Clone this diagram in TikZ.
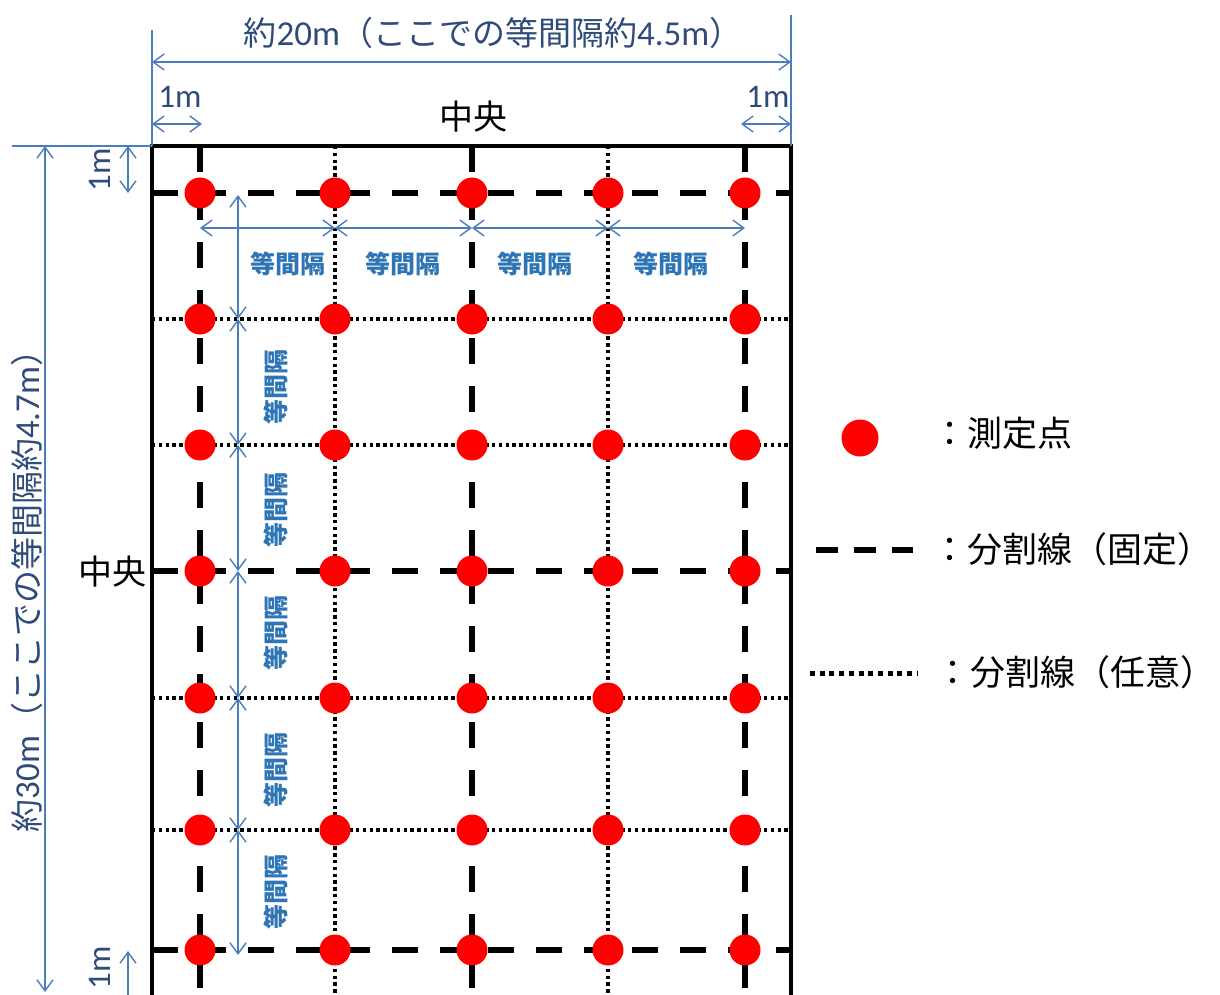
\documentclass[tikz,border=0pt]{standalone}
\usepackage{fontspec}
\setmainfont{Noto Sans CJK JP}
\newfontfamily\carl{Carlito}
\usetikzlibrary{arrows.meta}
\definecolor{dimline}{HTML}{4A7EBB}
\definecolor{dimtext}{HTML}{2F4B7A}
\definecolor{lblblue}{HTML}{2E75B6}
\definecolor{ptred}{HTML}{FF0000}
\begin{document}
\begin{tikzpicture}[x=1pt,y=-1pt,
  barb/.tip={Straight Barb[length=11pt,width=16pt,line width=1.4pt]},
  dimarrow/.style={draw=dimline, line width=1.5pt, barb-barb},
  dimhalf/.style={draw=dimline, line width=1.5pt, barb-},
  extline/.style={draw=dimline, line width=1.3pt},
  fixedline/.style={draw=black, line width=6pt, dash pattern=on 26pt off 22pt},
  freeline/.style={draw=black, line width=3.4pt, dash pattern=on 3.4pt off 3.4pt},
  border/.style={draw=black, line width=4pt},
  measpt/.style={circle, fill=ptred, minimum size=31pt, inner sep=0pt},
  dimlabel/.style={text=dimtext, inner sep=0pt, font=\fontsize{33}{33}\selectfont},
  onem/.style={text=dimtext, inner sep=0pt, font=\carl\fontsize{33}{33}\selectfont},
  eqlabel/.style={text=lblblue, inner sep=0pt, font=\bfseries\fontsize{25}{25}\selectfont},
  center/.style={text=black, inner sep=0pt, font=\fontsize{34}{34}\selectfont},
  legendtext/.style={text=black, anchor=west, inner sep=0pt, font=\fontsize{35}{35}\selectfont}
]
\useasboundingbox (0,0) rectangle (1220,995);
\fill[white] (0,0) rectangle (1220,995);

% grid lines
\foreach \x in {200,472,745} \draw[fixedline] (\x,146) -- (\x,1000);
\foreach \x in {335,608} \draw[freeline] (\x,146) -- (\x,1000);
\foreach \y in {193,571,950} \draw[fixedline] (152,\y) -- (791,\y);
\foreach \y in {319,445,698,830} \draw[freeline] (152,\y) -- (791,\y);

% border
\draw[border] (152,1010) -- (152,146) -- (791,146) -- (791,1010);

% measuring points
\foreach \i/\x in {1/200,2/335,3/472,4/608,5/745}
  \foreach \j/\y in {1/193,2/319,3/445,4/571,5/698,6/830,7/950}
    \node[measpt] (p\i\j) at (\x,\y) {};

% outer dimension: width
\coordinate (tl) at (152,30);
\coordinate (tr) at (791,15);
\coordinate (rtl) at (152,146);
\coordinate (rtr) at (791,146);
\coordinate (lx) at (12,146);
\draw[extline] (tl) -- (rtl);
\draw[extline] (tr) -- (rtr);
\draw[extline] (lx) -- (rtl);
\coordinate (wa) at (152,62);
\coordinate (wb) at (791,62);
\draw[dimarrow] (wa) -- (wb);
\node[dimlabel] (wlabel) at (493,33) {約{\carl\fontsize{35}{35}\selectfont 20m}（ここでの等間隔約{\carl\fontsize{35}{35}\selectfont 4.5m}）};

% outer dimension: height
\coordinate (ha) at (45,146);
\coordinate (hb) at (45,992);
\draw[dimarrow] (ha) -- (hb);
\node[dimlabel, rotate=90] (hlabel) at (27,583) {約{\carl\fontsize{35}{35}\selectfont 30m}（ここでの等間隔約{\carl\fontsize{35}{35}\selectfont 4.7m}）};

% 1m dimensions
\coordinate (m1a) at (152,124); \coordinate (m1b) at (202,124);
\coordinate (m2a) at (741,124); \coordinate (m2b) at (791,124);
\coordinate (m3a) at (128,146); \coordinate (m3b) at (128,193);
\coordinate (m4a) at (128,951); \coordinate (m4b) at (128,1000);
\draw[dimarrow] (m1a) -- (m1b);
\draw[dimarrow] (m2a) -- (m2b);
\draw[dimarrow] (m3a) -- (m3b);
\draw[dimhalf] (m4a) -- (m4b);
\node[onem] (onem1) at (180,97) {1m};
\node[onem] (onem2) at (768,97) {1m};
\node[onem, rotate=90] (onem3) at (100,170) {1m};
\node[onem, rotate=90] (onem4) at (100,968) {1m};

% centre labels
\node[center] (ctop) at (473,117) {中央};
\node[center] (cleft) at (112,572) {中央};

% inner horizontal intervals
\foreach \k/\xa/\xb in {1/200/335,2/335/472,3/472/608,4/608/745}{
  \coordinate (ha\k) at (\xa,228);
  \coordinate (hb\k) at (\xb,228);
  \draw[dimarrow] (ha\k) -- (hb\k);
}
\foreach \k/\x in {1/288,2/403,3/535,4/671}
  \node[eqlabel] (eqh\k) at (\x,264) {等間隔};

% inner vertical intervals
\foreach \k/\ya/\yb in {1/195/319,2/319/445,3/445/571,4/571/698,5/698/830,6/830/955}{
  \coordinate (va\k) at (238,\ya);
  \coordinate (vb\k) at (238,\yb);
  \draw[dimarrow] (va\k) -- (vb\k);
}
\foreach \k/\y in {1/387,2/510,3/633,4/770,5/892}
  \node[eqlabel, rotate=90] (eqv\k) at (276,\y) {等間隔};

% legend
\node[measpt, minimum size=37pt] (lgpt) at (860,438) {};
\coordinate (lgda) at (816,550); \coordinate (lgdb) at (913,550);
\draw[draw=black, line width=6.5pt, dash pattern=on 22pt off 16pt] (lgda) -- (lgdb);
\coordinate (lgfa) at (810,673); \coordinate (lgfb) at (917,673);
\draw[draw=black, line width=5pt, dash pattern=on 5pt off 4.7pt] (lgfa) -- (lgfb);
\node[legendtext] (lt1) at (932,433) {：測定点};
\node[legendtext] (lt2) at (932,549) {：分割線（固定）};
\node[legendtext] (lt3) at (935,672) {：分割線（任意）};
\end{tikzpicture}
\end{document}
